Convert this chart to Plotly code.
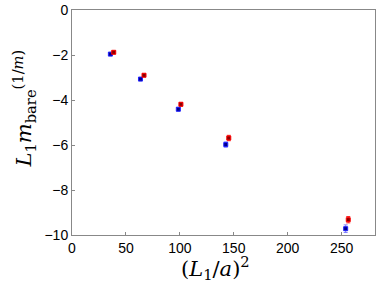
import plotly.graph_objects as go

# data
x_blue = [35.6, 63.5, 98.6, 142.6, 253.8]
y_blue = [-1.96, -3.07, -4.41, -5.98, -9.72]
e_blue = [0.05, 0.06, 0.08, 0.12, 0.17]

x_red = [38.7, 66.8, 101.0, 145.4, 256.2]
y_red = [-1.88, -2.90, -4.19, -5.69, -9.32]
e_red = [0.05, 0.06, 0.08, 0.12, 0.14]

x_ticks = [0, 50, 100, 150, 200, 250]
y_ticks = [0, -2, -4, -6, -8, -10]
y_tick_text = ["0", "−2", "−4", "−6", "−8", "−10"]

x_title = "(<i>L</i><sub>1</sub>/<i>a</i>)<sup>2</sup>"
y_title = "<i>L</i><sub>1</sub><i>m</i><sub>bare</sub><sup>(1/<i>m</i>)</sup>"

fig = go.Figure()
fig.add_trace(go.Scatter(
    x=x_blue, y=y_blue, mode="markers",
    error_y=dict(type="data", array=e_blue, color="#8080ff", thickness=1, width=2),
    marker=dict(symbol="square", size=4, color="#00008b", line=dict(color="#2020ff", width=1)),
    showlegend=False,
))
fig.add_trace(go.Scatter(
    x=x_red, y=y_red, mode="markers",
    error_y=dict(type="data", array=e_red, color="#ff2020", thickness=1, width=2),
    marker=dict(symbol="square", size=4, color="#8b0000", line=dict(color="#ff0000", width=1)),
    showlegend=False,
))

axis_common = dict(
    showline=True, linecolor="#888888", linewidth=1, mirror=True,
    ticks="inside", ticklen=3, tickcolor="#888888",
    showgrid=False, zeroline=False, automargin=False,
    ticklabeloverflow="allow",
    tickfont=dict(family="Liberation Sans, Arial, sans-serif", size=14, color="black"),
)

fig.update_layout(
    width=378, height=284,
    margin=dict(l=72, r=3, t=10, b=49),
    paper_bgcolor="white", plot_bgcolor="white",
    xaxis=dict(range=[0, 281], tickvals=x_ticks, **axis_common),
    yaxis=dict(range=[-10, 0], tickvals=y_ticks, ticktext=y_tick_text, **axis_common),
    annotations=[
        dict(text=x_title, xref="paper", yref="paper", x=0.472, y=-0.147,
             xanchor="center", yanchor="middle", showarrow=False,
             font=dict(family="DejaVu Serif, serif", size=21, color="black")),
        dict(text=y_title, xref="paper", yref="paper", x=-0.16, y=0.56,
             xanchor="center", yanchor="middle", textangle=-90, showarrow=False,
             font=dict(family="DejaVu Serif, serif", size=21, color="black")),
    ],
)

fig.write_html("out.html", config={"displayModeBar": False},
               post_script="document.body.style.margin='0';document.body.style.padding='0';")
